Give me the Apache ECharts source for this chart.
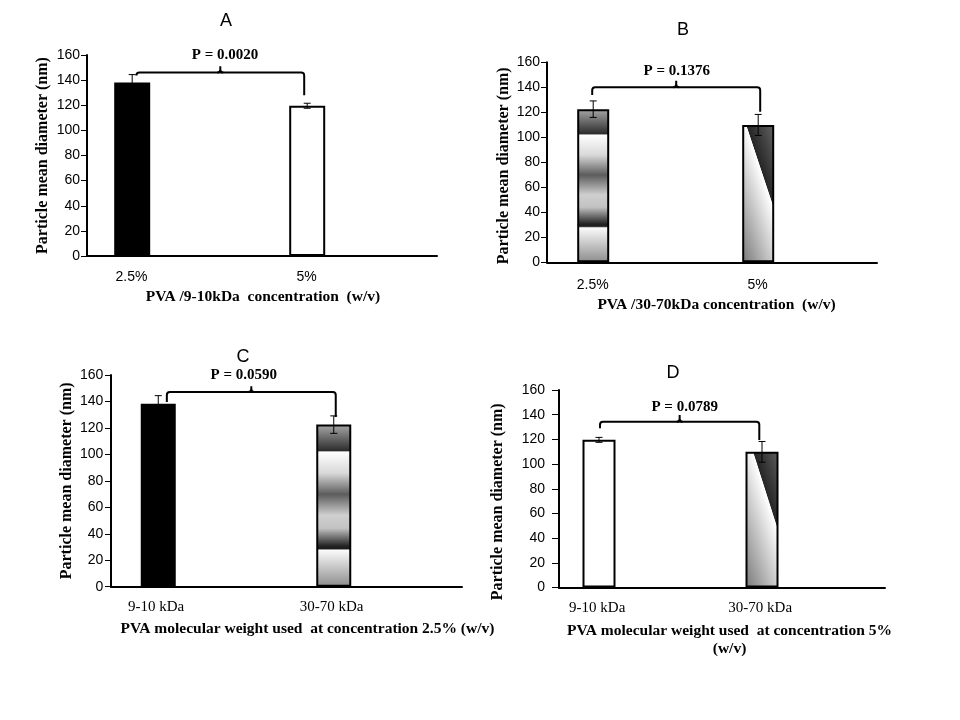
<!DOCTYPE html>
<html>
<head>
<meta charset="utf-8">
<script src="https://cdn.jsdelivr.net/npm/echarts@6/dist/echarts.min.js"></script>
<style>
html,body{margin:0;padding:0;background:#ffffff;}
#c{width:960px;height:720px;}
</style>
</head>
<body>
<div id="c"></div>
<script>
// ---------------- DATA ----------------
const panelLetters = ['A', 'B', 'C', 'D'];

const catsA = ['2.5%', '5%'];
const meansA = [138.2, 119.6];
const errA = [6.2, 2.0];
const bracketA = [146, 151, 144.5, 128];   // level, spike top, left end, right end
const pLabelA = 'P = 0.0020';
const xTitleA = 'PVA /9-10kDa  concentration  (w/v)';

const catsB = ['2.5%', '5%'];
const meansB = [122.5, 109.9];
const errB = [6.6, 8.4];
const bracketB = [140, 145.3, 133.8, 120.5];
const pLabelB = 'P = 0.1376';
const xTitleB = 'PVA /30-70kDa concentration  (w/v)';

const catsC = ['9-10 kDa', '30-70 kDa'];
const meansC = [138.2, 122.5];
const errC = [6.2, 6.6];
const bracketC = [147.2, 151.5, 139.6, 128.3];
const pLabelC = 'P = 0.0590';
const xTitleC = 'PVA molecular weight used  at concentration 2.5% (w/v)';

const catsD = ['9-10 kDa', '30-70 kDa'];
const meansD = [119.6, 109.9];
const errD = [2.0, 8.4];
const bracketD = [134.3, 139.7, 129, 119.5];
const pLabelD = 'P = 0.0789';
const xTitleD = 'PVA molecular weight used  at concentration 5%\n(w/v)';

const yTitle = 'Particle mean diameter (nm)';
const yTicks = [0, 20, 40, 60, 80, 100, 120, 140, 160];

// ---------------- STYLES ----------------
const bandGrad = {
  type: 'linear', x: 0, y: 0, x2: 0, y2: 1,
  colorStops: [
    {offset: 0, color: '#a8a8a8'},
    {offset: 0.15, color: '#353535'},
    {offset: 0.162, color: '#2a2a2a'},
    {offset: 0.168, color: '#ffffff'},
    {offset: 0.30, color: '#d8d8d8'},
    {offset: 0.43, color: '#5c5c5c'},
    {offset: 0.56, color: '#cfcfcf'},
    {offset: 0.64, color: '#c2c2c2'},
    {offset: 0.75, color: '#222222'},
    {offset: 0.765, color: '#1c1c1c'},
    {offset: 0.775, color: '#fafafa'},
    {offset: 1, color: '#8c8c8c'}
  ]
};
const diagGrad = {
  type: 'linear', x: 0, y: 1, x2: 2.12, y2: 0.836,
  colorStops: [
    {offset: 0, color: '#777777'},
    {offset: 0.655, color: '#ffffff'},
    {offset: 0.665, color: '#262626'},
    {offset: 1, color: '#5e5e5e'}
  ]
};
const fillMap = {solid: '#000000', open: '#ffffff', bands: bandGrad, diag: diagGrad};

const panels = [
  {cats: catsA, means: meansA, err: errA, br: bracketA, p: pLabelA, xTitle: xTitleA, fills: ['solid', 'open']},
  {cats: catsB, means: meansB, err: errB, br: bracketB, p: pLabelB, xTitle: xTitleB, fills: ['bands', 'diag']},
  {cats: catsC, means: meansC, err: errC, br: bracketC, p: pLabelC, xTitle: xTitleC, fills: ['solid', 'bands']},
  {cats: catsD, means: meansD, err: errD, br: bracketD, p: pLabelD, xTitle: xTitleD, fills: ['open', 'diag']}
];

const layout = [
  {left: 87, top: 55, width: 350, height: 201, bw: 36, off: -42.3, labShift: -43, labFont: 'Liberation Sans', labSize: 14, labMargin: 12.7,
   tickMargin: 7, tickLen: 6, xGap: 32, xPad: [0, 0, 0, 2], yGap: 34.7, yPad: [0, 0, 0, 0], brL: 4.2, brR: -3, pDx: 4.7, pDy: -11.3, lx: 226, ly: 21.5},
  {left: 547, top: 62.3, width: 330, height: 200, bw: 32, off: -36.3, labShift: -36.8, labFont: 'Liberation Sans', labSize: 14, labMargin: 14.7,
   tickMargin: 7, tickLen: 6, xGap: 33.7, xPad: [0, 0, 0, 9], yGap: 34, yPad: [0, 7, 0, 0], brL: -1, brR: 2, pDx: 0.5, pDy: -10, lx: 683, ly: 30},
  {left: 111, top: 375, width: 351, height: 211.7, bw: 35, off: -40.5, labShift: -42.6, labFont: 'Liberation Serif', labSize: 15, labMargin: 12,
   tickMargin: 7.7, tickLen: 6, xGap: 33.3, xPad: [0, 0, 0, 42], yGap: 33.7, yPad: [0, 0, 0, 0], brL: 8.6, brR: 2, pDx: -7.5, pDy: -11.2, lx: 243, ly: 357.5},
  {left: 559, top: 390, width: 326, height: 197.5, bw: 33, off: -41.5, labShift: -43.3, labFont: 'Liberation Serif', labSize: 15, labMargin: 12.8,
   tickMargin: 14, tickLen: 7, xGap: 34.5, xPad: [0, 0, 0, 15], yGap: 51.7, yPad: [0, 26, 0, 0], brL: 1, brR: -2.7, pDx: 5, pDy: -8.3, lx: 673, ly: 373}
];

// ---------------- OPTION ----------------
const titleFont = {fontFamily: 'Liberation Serif', fontWeight: 'bold', color: '#000'};

const grids = [], xAxes = [], yAxes = [], series = [], graphics = [];

panels.forEach((P, i) => {
  const L = layout[i];
  grids.push({left: L.left, top: L.top, width: L.width, height: L.height, containLabel: false});
  xAxes.push({
    type: 'category', gridIndex: i, data: P.cats, boundaryGap: true,
    axisLine: {lineStyle: {color: '#000', width: 2}},
    axisTick: {show: false},
    axisLabel: {color: '#000', fontFamily: L.labFont, fontSize: L.labSize, lineHeight: 16, margin: L.labMargin,
                padding: [0, -2 * L.labShift, 0, 0], interval: 0},
    name: P.xTitle, nameLocation: 'middle', nameGap: L.xGap,
    nameTextStyle: Object.assign({}, titleFont, {fontSize: 15.5, lineHeight: 18, padding: L.xPad, align: 'center'})
  });
  yAxes.push({
    type: 'value', gridIndex: i,
    min: yTicks[0], max: yTicks[yTicks.length - 1], interval: yTicks[1] - yTicks[0],
    splitLine: {show: false},
    axisLine: {show: true, lineStyle: {color: '#000', width: 2}},
    axisTick: {show: true, length: L.tickLen, lineStyle: {color: '#000', width: 1}},
    axisLabel: {color: '#000', fontFamily: 'Liberation Sans', fontSize: 14, margin: L.tickMargin},
    name: yTitle, nameLocation: 'middle', nameRotate: 90, nameGap: L.yGap,
    nameTextStyle: Object.assign({}, titleFont, {fontSize: 16, lineHeight: 18, padding: L.yPad})
  });
  const gap = ((-2 * L.off - L.bw) / L.bw * 100) + '%';
  series.push({
    type: 'bar', xAxisIndex: i, yAxisIndex: i, barWidth: L.bw, barGap: gap, silent: true,
    data: P.means.map((v, j) => ({
      value: v,
      itemStyle: {color: fillMap[P.fills[j]], borderColor: '#000', borderWidth: 2}
    })),
    z: 2
  });
  series.push({
    type: 'bar', xAxisIndex: i, yAxisIndex: i, barWidth: L.bw, barGap: gap, silent: true,
    data: [], z: 2
  });
  series.push({
    type: 'custom', xAxisIndex: i, yAxisIndex: i, z: 5, silent: true, clip: false,
    data: [[0, 0]],
    renderItem: function (params, api) {
      const cx = j => api.coord([j, 0])[0] + L.off;
      const cy = v => api.coord([0, v])[1];
      const kids = [];
      P.means.forEach((m, j) => {
        const x = cx(j), y1 = cy(m + P.err[j]), y2 = cy(m - P.err[j]);
        const st = {stroke: '#000', lineWidth: 1};
        kids.push({type: 'line', shape: {x1: x, y1: y1, x2: x, y2: y2}, style: st});
        kids.push({type: 'line', shape: {x1: x - 3.5, y1: y1, x2: x + 3.5, y2: y1}, style: st});
        kids.push({type: 'line', shape: {x1: x - 3.5, y1: y2, x2: x + 3.5, y2: y2}, style: st});
      });
      const br = P.br;
      const xl = cx(0) + L.brL, xr = cx(1) + L.brR, xm = (xl + xr) / 2;
      const yl = cy(br[2]), yh = cy(br[0]), yt = cy(br[1]), yr = cy(br[3]);
      const r = 3;
      const d = 'M' + xl + ' ' + yl + ' L' + xl + ' ' + (yh + r) + ' Q' + xl + ' ' + yh + ' ' + (xl + r) + ' ' + yh +
                ' L' + (xr - r) + ' ' + yh + ' Q' + xr + ' ' + yh + ' ' + xr + ' ' + (yh + r) + ' L' + xr + ' ' + yr;
      kids.push({type: 'path', shape: {pathData: d}, style: {stroke: '#000', lineWidth: 2, fill: null}});
      kids.push({type: 'path', shape: {pathData: 'M' + (xm - 3) + ' ' + yh + ' Q' + xm + ' ' + yh + ' ' + xm + ' ' + (yh - 3) + ' L' + xm + ' ' + yt +
                 ' M' + (xm + 3) + ' ' + yh + ' Q' + xm + ' ' + yh + ' ' + xm + ' ' + (yh - 3)},
                 style: {stroke: '#000', lineWidth: 2, fill: null}});
      kids.push({type: 'text', x: xm + L.pDx, y: yt + L.pDy,
                 style: {text: P.p, fill: '#000', fontFamily: 'Liberation Serif', fontWeight: 'bold', fontSize: 15,
                         align: 'center', verticalAlign: 'middle'}});
      return {type: 'group', children: kids};
    }
  });
  graphics.push({type: 'text', x: L.lx, y: L.ly,
    style: {text: panelLetters[i], fill: '#000', fontFamily: 'Liberation Sans', fontSize: 18, align: 'center', verticalAlign: 'middle'}});
});

const chart = echarts.init(document.getElementById('c'), null, {renderer: 'canvas', width: 960, height: 720});
chart.setOption({
  backgroundColor: '#ffffff',
  animation: false,
  grid: grids,
  xAxis: xAxes,
  yAxis: yAxes,
  series: series,
  graphic: graphics
});
</script>
</body>
</html>
